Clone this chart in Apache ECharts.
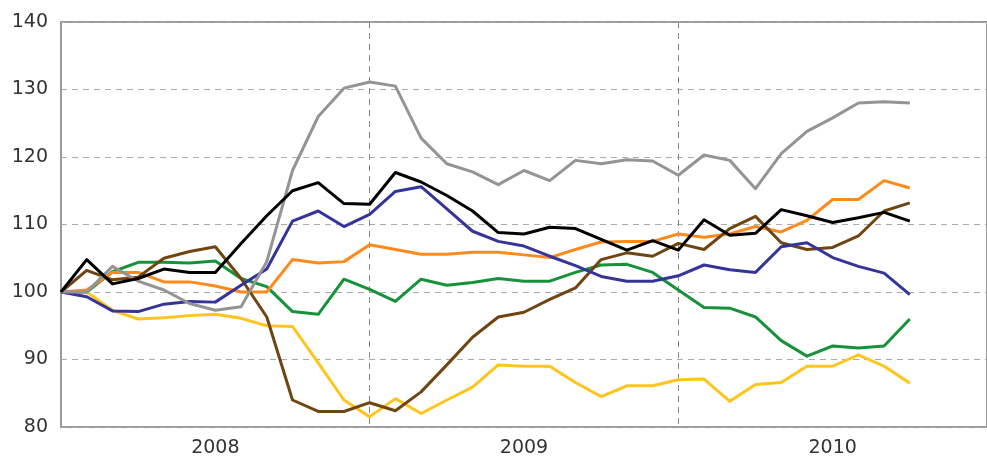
<!DOCTYPE html>
<html>
<head>
<meta charset="utf-8">
<script src="https://cdn.jsdelivr.net/npm/echarts@6/dist/echarts.min.js"></script>
<style>
html,body{margin:0;padding:0;background:#fff;}
#chart{width:987px;height:464px;}
</style>
</head>
<body>
<div id="chart"></div>
<script>
// Months Jan 2008 .. Jan 2011
const months = [];
for (let y = 2008; y <= 2010; y++) for (let m = 1; m <= 12; m++) months.push(y + '-' + (m < 10 ? '0' + m : m));
months.push('2011-01');

const yearLabels = ['2008', '2009', '2010'];
const yTicks = [80, 90, 100, 110, 120, 130, 140];

const gray = [100, 100, 103.8, 101.6, 100.3, 98.3, 97.3, 97.8, 104.5, 118, 126, 130.2, 131.1, 130.5, 122.8, 119, 117.8, 115.9, 118, 116.5, 119.5, 119, 119.6, 119.4, 117.3, 120.3, 119.5, 115.3, 120.5, 123.8, 125.8, 128, 128.2, 128];
const black = [100, 104.8, 101.2, 102, 103.4, 102.9, 102.9, 107.2, 111.3, 115, 116.2, 113.1, 113, 117.7, 116.3, 114.3, 112, 108.8, 108.6, 109.6, 109.4, 107.8, 106.2, 107.6, 106.2, 110.7, 108.4, 108.7, 112.2, 111.3, 110.3, 111, 111.8, 110.5];
const blue = [100, 99.3, 97.2, 97.1, 98.2, 98.6, 98.5, 101, 103.4, 110.5, 112, 109.7, 111.5, 114.9, 115.6, 112.3, 109, 107.5, 106.8, 105.3, 103.9, 102.3, 101.6, 101.6, 102.4, 104, 103.3, 102.9, 106.7, 107.3, 105.1, 103.8, 102.8, 99.6];
const orange = [100, 100.3, 102.9, 102.9, 101.5, 101.5, 100.9, 100, 100, 104.8, 104.3, 104.5, 107, 106.3, 105.6, 105.6, 105.9, 105.9, 105.5, 105.1, 106.3, 107.4, 107.5, 107.5, 108.6, 108.1, 108.6, 109.7, 108.9, 110.6, 113.7, 113.7, 116.5, 115.4];
const green = [100, 100, 103, 104.4, 104.4, 104.3, 104.6, 102, 100.8, 97.1, 96.7, 101.9, 100.4, 98.6, 101.9, 101, 101.4, 102, 101.6, 101.6, 102.9, 104, 104.1, 102.9, 100.3, 97.7, 97.6, 96.3, 92.8, 90.5, 92, 91.7, 92, 96];
const brown = [100, 103.2, 101.8, 102.2, 105, 106, 106.7, 102, 96.3, 84, 82.3, 82.3, 83.6, 82.4, 85.2, 89.2, 93.3, 96.3, 97, 98.9, 100.6, 104.8, 105.8, 105.3, 107.2, 106.3, 109.4, 111.2, 107.3, 106.3, 106.6, 108.3, 112, 113.2];
const yellow = [100, 100, 97.3, 96, 96.2, 96.5, 96.7, 96.1, 95, 94.9, 89.5, 84, 81.5, 84.2, 82, 84, 85.9, 89.2, 89, 89, 86.6, 84.5, 86.1, 86.1, 87, 87.1, 83.8, 86.3, 86.6, 89, 89, 90.7, 89, 86.5];

const seriesDefs = [
  {name: 'yellow', data: yellow, color: '#ffc51e'},
  {name: 'green', data: green, color: '#17923a'},
  {name: 'orange', data: orange, color: '#ff8a1c'},
  {name: 'brown', data: brown, color: '#6f4512'},
  {name: 'blue', data: blue, color: '#35349a'},
  {name: 'gray', data: gray, color: '#949494'},
  {name: 'black', data: black, color: '#000000'}
];

const chart = echarts.init(document.getElementById('chart'), null, {renderer: 'canvas'});
const font = 'DejaVu Sans';
chart.setOption({
  animation: false,
  backgroundColor: '#ffffff',
  grid: {left: 61, top: 22, right: -6, bottom: 37, show: true, borderColor: '#9a9a9a', borderWidth: 2, backgroundColor: 'transparent'},
  xAxis: {
    type: 'category',
    data: months,
    boundaryGap: false,
    axisLine: {show: false},
    axisTick: {show: false},
    axisLabel: {
      interval: function (i) { return i % 12 === 6; },
      formatter: function (v, i) { return yearLabels[Math.floor(i / 12)] || ''; },
      color: '#333', fontSize: 19, fontFamily: font, margin: 12
    },
    splitLine: {
      show: true,
      interval: function (i) { return i === 12 || i === 24; },
      lineStyle: {color: '#888', type: [6, 5], width: 1}
    }
  },
  yAxis: {
    type: 'value',
    min: yTicks[0], max: yTicks[yTicks.length - 1], interval: 10,
    axisLine: {show: false},
    axisTick: {show: false},
    axisLabel: {color: '#333', fontSize: 19, fontFamily: font, margin: 13},
    splitLine: {show: true, lineStyle: {color: '#aaa', type: [6, 5], width: 1}}
  },
  series: seriesDefs.map(s => ({
    name: s.name, type: 'line', data: s.data, symbol: 'none',
    lineStyle: {color: s.color, width: 3, join: 'round'}, itemStyle: {color: s.color}
  }))
});
</script>
</body>
</html>
